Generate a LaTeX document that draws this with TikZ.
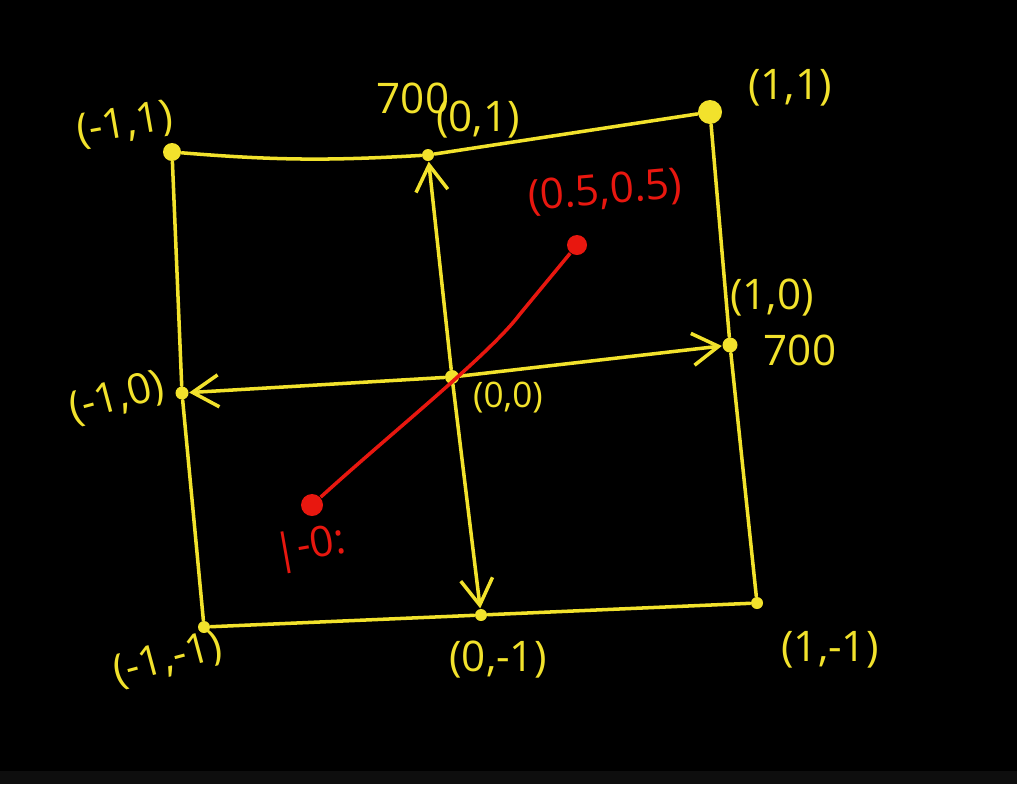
\documentclass[tikz,border=0pt]{standalone}
\usepackage{fontspec}
\setsansfont{Open Sans}
\usepackage{tikz}
\usepackage{xcolor}
\usetikzlibrary{arrows.meta,positioning}
\definecolor{board}{HTML}{000000}
\definecolor{strip}{HTML}{0E0E0E}
\definecolor{chalk}{HTML}{F2E22C}
\definecolor{mark}{HTML}{E8170F}
\tikzset{
  edge/.style={draw=chalk, line width=1pt, line cap=round},
  vec/.style={edge, -{Straight Barb[length=2.6mm,width=3.2mm]}},
  dot/.style={circle, fill=chalk, inner sep=0pt, minimum size=#1},
  dot/.default=1.4mm,
  lbl/.style={text=chalk, font=\sffamily\large, inner sep=1pt},
  redlbl/.style={text=mark, font=\sffamily\large, inner sep=1pt}
}
\begin{document}
\begin{tikzpicture}[x=1cm,y=1cm]
      % board
      \fill[board] (0,0) rectangle (10.17,7.84);
      \fill[strip] (0,0) rectangle (10.17,0.13);
      \useasboundingbox (0,0) rectangle (10.17,7.84);

      % grid points
      \node[dot=1.8mm] (nw) at (1.72,6.32) {};
      \node[dot=1.2mm] (n)  at (4.28,6.29) {};
      \node[dot=2.4mm] (ne) at (7.10,6.72) {};
      \node[dot=1.3mm] (w)  at (1.82,3.91) {};
      \node[dot=1.4mm] (c)  at (4.52,4.07) {};
      \node[dot=1.5mm] (e)  at (7.30,4.39) {};
      \node[dot=1.2mm] (sw) at (2.04,1.57) {};
      \node[dot=1.2mm] (s)  at (4.81,1.69) {};
      \node[dot=1.2mm] (se) at (7.57,1.81) {};

      % outer square
      \draw[edge] (nw) to[bend right=4] (n);
      \draw[edge] (n) -- (ne);
      \draw[edge] (ne) -- (e) -- (se);
      \draw[edge] (nw) -- (w) -- (sw);
      \draw[edge] (sw) -- (s) -- (se);

      % axes from the centre
      \foreach \t in {n,e,w,s} {
        \draw[vec] (c) -- (\t);
      }

      % red segment
      \node[circle, fill=mark, inner sep=0pt, minimum size=2.2mm] (a) at (3.12,2.79) {};
      \node[circle, fill=mark, inner sep=0pt, minimum size=2mm] (b) at (5.77,5.39) {};
      \draw[draw=mark, line width=1pt] (a) .. controls (3.9,3.5) and (4.9,4.3) .. (5.2,4.7) -- (b);

      % labels
      \node[lbl, rotate=10] (lnw) at (1.25,6.59) {(-1,1)};
      \node[lbl] (kn) at (4.13,6.86) {700};
      \node[lbl] (ln) at (4.78,6.64) {(0,1)};
      \node[lbl] (lne) at (7.90,6.96) {(1,1)};
      \node[lbl] (le) at (7.72,4.86) {(1,0)};
      \node[lbl] (ke) at (8.00,4.34) {700};
      \node[lbl, rotate=15] (lw) at (1.17,3.86) {(-1,0)};
      \node[lbl, font=\sffamily] (lc) at (5.08,3.86) {(0,0)};
      \node[lbl, rotate=15] (lsw) at (1.68,1.24) {(-1,-1)};
      \node[lbl] (ls) at (4.98,1.24) {(0,-1)};
      \node[lbl] (lse) at (8.30,1.34) {(1,-1)};
      \node[redlbl, rotate=5] (lb) at (6.05,5.92) {(0.5,0.5)};
      \node[redlbl, rotate=10] (la) at (3.10,2.36) {|-0:};
    \end{tikzpicture}
\end{document}
